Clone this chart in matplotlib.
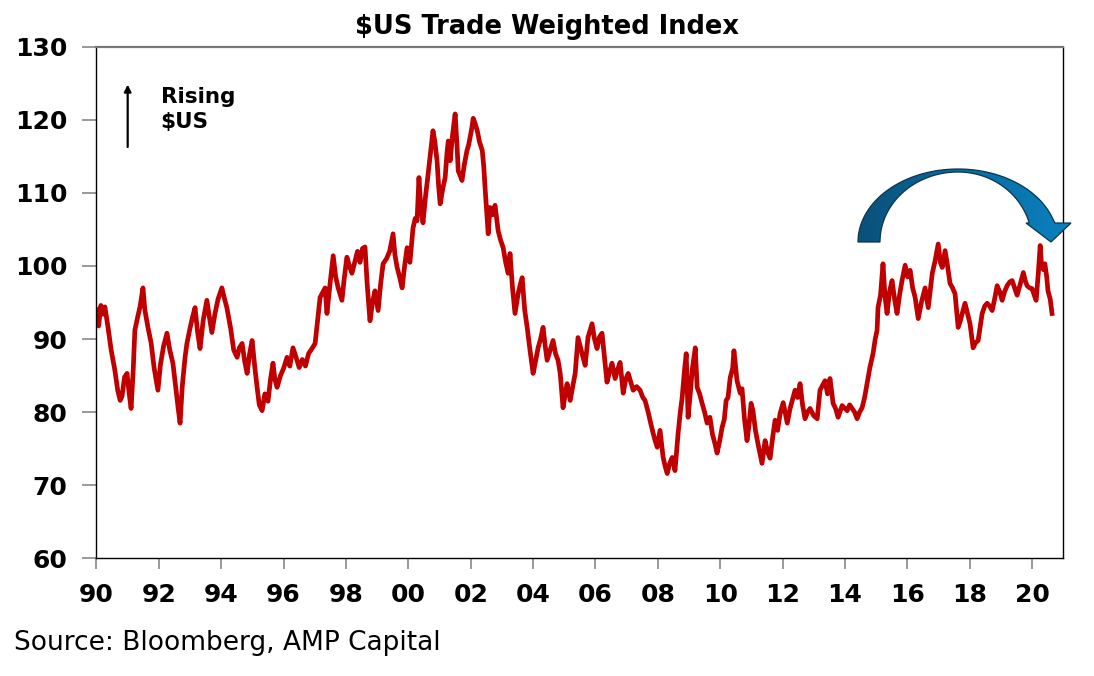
import numpy as np
import matplotlib.pyplot as plt
from matplotlib.patches import Polygon
from matplotlib.colors import LinearSegmentedColormap

plt.rcParams['font.family'] = ['DejaVu Sans']

# Trade weighted index (decimal years)
years = [
    1990.00, 1990.07, 1990.14, 1990.21, 1990.27, 1990.37, 1990.47, 1990.59, 1990.68, 1990.76,
    1990.82, 1990.90, 1990.98, 1991.05, 1991.11, 1991.18, 1991.23, 1991.32, 1991.40, 1991.49,
    1991.55, 1991.65, 1991.75, 1991.85, 1991.97, 1992.05, 1992.15, 1992.26, 1992.35, 1992.45,
    1992.55, 1992.62, 1992.68, 1992.75, 1992.84, 1992.90, 1993.00, 1993.08, 1993.16, 1993.24,
    1993.32, 1993.42, 1993.54, 1993.62, 1993.70, 1993.80, 1993.90, 1994.02, 1994.10, 1994.18,
    1994.30, 1994.40, 1994.51, 1994.58, 1994.67, 1994.75, 1994.83, 1994.91, 1994.99, 1995.08,
    1995.15, 1995.22, 1995.31, 1995.40, 1995.50, 1995.58, 1995.66, 1995.72, 1995.79, 1995.90,
    1996.00, 1996.11, 1996.20, 1996.30, 1996.40, 1996.50, 1996.60, 1996.70, 1996.80, 1996.91,
    1997.01, 1997.10, 1997.17, 1997.27, 1997.33, 1997.39, 1997.50, 1997.59, 1997.67, 1997.75,
    1997.87, 1997.95, 1998.03, 1998.11, 1998.19, 1998.28, 1998.37, 1998.45, 1998.53, 1998.61,
    1998.68, 1998.77, 1998.85, 1998.93, 1999.03, 1999.11, 1999.19, 1999.30, 1999.40, 1999.51,
    1999.57, 1999.64, 1999.72, 1999.80, 1999.88, 1999.96, 2000.05, 2000.15, 2000.22, 2000.28,
    2000.34, 2000.40, 2000.47, 2000.55, 2000.60, 2000.67, 2000.73, 2000.79, 2000.85, 2000.92,
    2000.97, 2001.02, 2001.10, 2001.18, 2001.24, 2001.28, 2001.34, 2001.42, 2001.50, 2001.56,
    2001.60, 2001.67, 2001.72, 2001.80, 2001.88, 2001.93, 2001.98, 2002.04, 2002.08, 2002.14,
    2002.21, 2002.28, 2002.37, 2002.42, 2002.46, 2002.52, 2002.56, 2002.62, 2002.70, 2002.78,
    2002.83, 2002.88, 2002.96, 2003.04, 2003.12, 2003.20, 2003.26, 2003.34, 2003.42, 2003.52,
    2003.59, 2003.65, 2003.73, 2003.81, 2003.90, 2004.00, 2004.08, 2004.16, 2004.24, 2004.32,
    2004.39, 2004.45, 2004.55, 2004.64, 2004.72, 2004.80, 2004.87, 2004.96, 2005.05, 2005.09,
    2005.19, 2005.27, 2005.35, 2005.44, 2005.57, 2005.67, 2005.76, 2005.89, 2005.97, 2006.05,
    2006.13, 2006.21, 2006.29, 2006.37, 2006.45, 2006.53, 2006.63, 2006.71, 2006.79, 2006.89,
    2006.97, 2007.05, 2007.21, 2007.32, 2007.43, 2007.52, 2007.59, 2007.69, 2007.77, 2007.85,
    2007.92, 2007.98, 2008.07, 2008.17, 2008.24, 2008.30, 2008.38, 2008.46, 2008.55, 2008.65,
    2008.72, 2008.78, 2008.85, 2008.91, 2008.97, 2009.05, 2009.10, 2009.20, 2009.26, 2009.34,
    2009.42, 2009.50, 2009.58, 2009.67, 2009.75, 2009.83, 2009.90, 2009.98, 2010.06, 2010.13,
    2010.19, 2010.25, 2010.32, 2010.40, 2010.44, 2010.54, 2010.64, 2010.70, 2010.78, 2010.86,
    2010.93, 2010.99, 2011.05, 2011.13, 2011.21, 2011.34, 2011.44, 2011.52, 2011.60, 2011.68,
    2011.76, 2011.84, 2011.92, 2012.02, 2012.15, 2012.24, 2012.40, 2012.48, 2012.56, 2012.64,
    2012.72, 2012.80, 2012.88, 2013.00, 2013.11, 2013.20, 2013.36, 2013.44, 2013.52, 2013.62,
    2013.70, 2013.78, 2013.91, 2014.07, 2014.15, 2014.23, 2014.31, 2014.39, 2014.47, 2014.55,
    2014.63, 2014.71, 2014.80, 2014.90, 2014.97, 2015.03, 2015.06, 2015.14, 2015.22, 2015.28,
    2015.35, 2015.43, 2015.51, 2015.59, 2015.67, 2015.75, 2015.83, 2015.93, 2016.01, 2016.09,
    2016.17, 2016.25, 2016.35, 2016.45, 2016.57, 2016.67, 2016.80, 2016.89, 2016.99, 2017.06,
    2017.12, 2017.21, 2017.29, 2017.37, 2017.45, 2017.53, 2017.63, 2017.70, 2017.76, 2017.85,
    2017.93, 2018.01, 2018.11, 2018.19, 2018.27, 2018.33, 2018.40, 2018.48, 2018.56, 2018.64,
    2018.72, 2018.80, 2018.88, 2018.96, 2019.04, 2019.12, 2019.20, 2019.28, 2019.36, 2019.44,
    2019.52, 2019.62, 2019.72, 2019.78, 2019.84, 2019.92, 2020.00, 2020.07, 2020.13, 2020.20,
    2020.26, 2020.30, 2020.36, 2020.41, 2020.47, 2020.51, 2020.58, 2020.64,
]
twi = [
    94.0, 91.8, 94.6, 93.4, 94.4, 91.6, 88.5, 85.7, 83.0, 81.6,
    82.2, 84.8, 85.3, 82.5, 80.5, 86.0, 91.2, 93.0, 94.5, 97.0,
    94.0, 91.6, 89.5, 86.0, 83.0, 86.5, 89.0, 90.8, 88.5, 86.7,
    83.0, 80.5, 78.5, 83.5, 87.5, 89.4, 91.5, 93.0, 94.3, 91.0,
    88.7, 92.5, 95.3, 93.0, 90.9, 93.5, 95.5, 97.0, 95.6, 94.3,
    91.5, 88.5, 87.5, 88.8, 89.4, 87.0, 85.3, 88.0, 89.8, 86.0,
    83.4, 81.0, 80.2, 82.5, 81.5, 84.5, 86.7, 84.5, 83.4, 85.0,
    86.0, 87.5, 86.3, 88.8, 87.5, 86.1, 87.2, 86.3, 88.0, 88.7,
    89.4, 93.0, 95.7, 96.5, 97.0, 93.5, 98.0, 101.4, 98.5, 97.0,
    95.3, 98.5, 101.2, 100.0, 99.0, 100.5, 102.0, 100.5, 102.4, 102.6,
    97.5, 92.5, 95.0, 96.6, 93.9, 97.5, 100.3, 101.0, 102.0, 104.4,
    101.5, 99.8, 98.5, 97.0, 100.0, 102.5, 100.5, 105.2, 106.5, 106.2,
    112.1, 108.0, 105.9, 109.5, 111.3, 114.0, 116.2, 118.5, 117.0, 114.4,
    111.0, 108.5, 110.5, 112.1, 115.5, 117.1, 114.4, 118.0, 120.8, 116.5,
    113.0, 112.3, 111.7, 114.0, 115.8, 116.5, 117.6, 119.0, 120.2, 119.5,
    118.5, 117.0, 115.8, 113.5, 110.7, 107.0, 104.4, 108.0, 107.0, 108.3,
    106.5, 104.8, 103.5, 102.5, 100.5, 99.0, 101.7, 97.0, 93.5, 96.2,
    97.5, 98.4, 94.0, 91.6, 88.5, 85.3, 87.0, 88.8, 90.0, 91.6,
    89.0, 87.1, 88.5, 89.8, 88.0, 87.1, 85.3, 80.6, 83.0, 83.9,
    81.6, 83.5, 85.3, 90.2, 88.0, 86.4, 90.2, 92.1, 90.0, 88.7,
    90.3, 90.8, 87.5, 84.1, 85.5, 86.7, 84.6, 85.8, 86.8, 82.6,
    84.5, 85.3, 83.0, 83.5, 83.0, 82.0, 81.6, 80.0, 78.5, 77.1,
    76.0, 75.2, 77.5, 73.8, 72.5, 71.6, 73.0, 73.8, 72.0, 77.1,
    80.0, 82.0, 85.5, 88.0, 79.3, 83.0, 85.7, 88.8, 83.4, 82.5,
    81.2, 80.0, 78.5, 79.3, 77.0, 75.7, 74.4, 76.0, 77.9, 79.0,
    81.6, 82.0, 84.7, 86.0, 88.4, 84.3, 82.6, 83.2, 79.0, 76.1,
    78.5, 81.2, 80.2, 77.5, 75.7, 73.0, 76.1, 74.5, 73.7, 76.5,
    78.9, 77.5, 79.8, 81.3, 78.5, 80.5, 83.0, 82.0, 83.9, 81.0,
    79.1, 80.0, 80.5, 79.5, 79.1, 83.0, 84.3, 82.5, 84.6, 81.2,
    80.5, 79.3, 80.9, 80.2, 81.0, 80.5, 80.0, 79.1, 80.0, 80.6,
    82.0, 83.9, 86.1, 88.0, 90.0, 91.2, 94.3, 96.0, 100.3, 96.0,
    93.5, 96.5, 98.0, 95.5, 93.5, 96.0, 98.0, 100.1, 98.5, 99.4,
    97.0, 95.7, 92.8, 95.0, 97.0, 94.3, 99.0, 100.7, 103.0, 100.5,
    99.8, 102.1, 100.0, 97.6, 97.0, 96.2, 91.6, 92.5, 93.5, 94.9,
    93.5, 92.1, 88.8, 89.5, 89.8, 91.5, 93.5, 94.5, 94.9, 94.5,
    93.9, 95.5, 97.3, 96.5, 95.3, 96.5, 97.3, 97.8, 98.0, 97.0,
    96.0, 97.5, 99.1, 98.0, 97.3, 97.0, 96.9, 96.0, 95.3, 99.0,
    102.8, 100.3, 99.5, 100.3, 98.5, 96.6, 95.5, 93.5,
]

tick_years = list(range(1990, 2021, 2))
tick_labels = ['%02d' % (y % 100) for y in tick_years]
y_ticks = [60, 70, 80, 90, 100, 110, 120, 130]

W, H = 1094, 676
fig = plt.figure(figsize=(W / 100, H / 100), dpi=100)
ax = fig.add_axes([0.0882, 0.1741, 0.8837, 0.7568])

ax.plot(years, twi, color='#C00000', lw=3.4, solid_joinstyle='round')

ax.set_xlim(1990, 2021)
ax.set_ylim(60, 130)
ax.set_xticks(tick_years)
ax.set_xticklabels(tick_labels)
ax.set_yticks(y_ticks)
ax.tick_params(axis='both', direction='out', width=1.2, color='#888888', labelsize=18)
ax.tick_params(axis='x', length=8, pad=10)
ax.tick_params(axis='y', length=10, pad=11)
for lab in ax.get_xticklabels() + ax.get_yticklabels():
    lab.set_fontweight('bold')

for side in ['left', 'bottom', 'right']:
    ax.spines[side].set_color('black')
    ax.spines[side].set_linewidth(1.0)
ax.spines['top'].set_color('#777777')
ax.spines['top'].set_linewidth(1.6)

# "Rising $US" annotation
ax.annotate('', xy=(1991.0, 125.2), xytext=(1991.0, 115.9),
            arrowprops=dict(arrowstyle='-|>', color='black', lw=1.6,
                            mutation_scale=10))
ax.text(1992.06, 122.3, 'Rising', fontsize=15.5, fontweight='bold', va='baseline')
ax.text(1992.06, 118.9, '$US', fontsize=15.5, fontweight='bold', va='baseline')

# big curved arrow, drawn on an overlay in figure pixels
ov = fig.add_axes([0, 0, 1, 1], zorder=5)
ov.set_xlim(0, W)
ov.set_ylim(H, 0)
ov.axis('off')
cx, cy = 958, 242
t_out = np.radians(np.linspace(180, 15, 80))
t_in = np.radians(np.linspace(15.7, 180, 80))
outer = np.column_stack([cx + 100 * np.cos(t_out), cy - 73 * np.sin(t_out)])
r_in = np.where(np.cos(t_in) > 0, 74, 78)
inner = np.column_stack([cx + r_in * np.cos(t_in), cy - 70 * np.sin(t_in)])
shape = np.vstack([outer[:-1], [[1055, 223]], [[1071, 223]], [[1051, 242]],
                   [[1026, 223]], [[inner[0, 0], 223]], inner[1:]])
poly = Polygon(shape, closed=True, facecolor='none', edgecolor='#0A3550', lw=0.9)
ov.add_patch(poly)
grad = np.linspace(0, 1, 256).reshape(1, -1)
cmap = LinearSegmentedColormap.from_list('blu', ['#0B4F78', '#0A6B9F', '#0A82C0'])
im = ov.imshow(grad, extent=[855, 1075, 245, 165], cmap=cmap, aspect='auto')
im.set_clip_path(poly)

fig.text(0.5, 0.949, '$US Trade Weighted Index', ha='center', va='baseline',
         fontsize=18.5, fontweight='bold')
fig.text(0.0128, 0.038, 'Source: Bloomberg, AMP Capital', ha='left', va='baseline',
         fontsize=19)

fig.savefig('out.png', dpi=100)
